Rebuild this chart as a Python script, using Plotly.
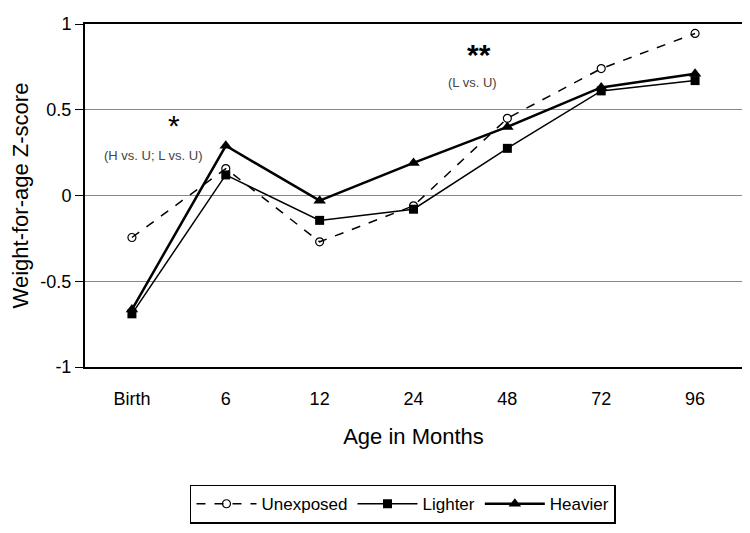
import plotly.graph_objects as go

ages = ["Birth", "6", "12", "24", "48", "72", "96"]
unexposed = [-0.245, 0.157, -0.27, -0.06, 0.45, 0.74, 0.945]
lighter = [-0.69, 0.12, -0.145, -0.08, 0.275, 0.61, 0.67]
heavier = [-0.665, 0.29, -0.03, 0.19, 0.40, 0.63, 0.71]
y_ticks = [-1, -0.5, 0, 0.5, 1]
y_tick_labels = ["-1", "-0.5", "0", "0.5", "1"]

fig = go.Figure()
fig.add_trace(go.Scatter(x=ages, y=unexposed, name="Unexposed", mode="lines+markers",
                         line=dict(color="black", width=1.5, dash="dash"),
                         marker=dict(symbol="circle-open", size=8, color="black", line=dict(width=1.2))))
fig.add_trace(go.Scatter(x=ages, y=lighter, name="Lighter", mode="lines+markers",
                         line=dict(color="black", width=1.5),
                         marker=dict(symbol="square", size=9, color="black")))
fig.add_trace(go.Scatter(x=ages, y=heavier, name="Heavier", mode="lines+markers",
                         line=dict(color="black", width=2.5),
                         marker=dict(symbol="triangle-up", size=11, color="black")))

fnt = "Liberation Sans, Arial, sans-serif"
fig.update_layout(
    width=750, height=533,
    margin=dict(l=77, r=16, t=16, b=174),
    paper_bgcolor="white", plot_bgcolor="white",
    font=dict(family=fnt, color="black"),
    showlegend=True,
    legend=dict(orientation="h", x=0.484, xanchor="center", y=-0.40, yanchor="middle",
                bordercolor="black", borderwidth=1.5, font=dict(size=17, family=fnt),
                itemwidth=60, tracegroupgap=0),
    xaxis=dict(type="category", range=[-0.5, 6.5], showgrid=False, ticks="outside", ticklen=14,
               tickcolor="rgba(0,0,0,0)", automargin=False,
               tickfont=dict(size=18), showline=True, linecolor="black", linewidth=2, mirror=True,
               title=dict(text="Age in Months", font=dict(size=22), standoff=21)),
    yaxis=dict(range=[-1, 1], tickvals=y_ticks, ticktext=y_tick_labels, showgrid=True,
               gridcolor="#888888", gridwidth=1, zeroline=False, ticks="outside", ticklen=8,
               tickcolor="black", tickfont=dict(size=18), showline=True, linecolor="black",
               linewidth=2, mirror=True, automargin=False,
               title=dict(text="Weight-for-age Z-score", font=dict(size=22), standoff=14)),
)

fig.add_annotation(x=0.45, y=0.41, xref="x", yref="y", text="*", showarrow=False,
                   font=dict(size=30, family=fnt, color="black"))
fig.add_annotation(x=0.22, y=0.235, xref="x", yref="y", text="(H vs. U; L vs. U)", showarrow=False,
                   font=dict(size=13, family=fnt, color="#444444"))
fig.add_annotation(x=3.7, y=0.82, xref="x", yref="y", text="<b>**</b>", showarrow=False,
                   font=dict(size=30, family=fnt, color="black"))
fig.add_annotation(x=3.63, y=0.66, xref="x", yref="y", text="(L vs. U)", showarrow=False,
                   font=dict(size=13, family=fnt, color="#444444"))

fig.write_html("out.html")
